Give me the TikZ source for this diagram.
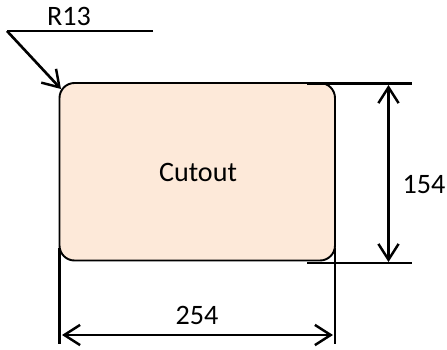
\documentclass[tikz,border=0pt]{standalone}
\usepackage{fontspec}
\setmainfont{Carlito}
\usetikzlibrary{arrows.meta}
\definecolor{cutoutfill}{RGB}{253,233,217}
\tikzset{
    barb/.tip={Straight Barb[length=9pt,width=11.5pt,line width=1.4pt]},
    dimline/.style={line width=1.3pt,barb-barb},
    extline/.style={line width=1.5pt},
    dimtext/.style={inner sep=0pt,font=\fontsize{16}{18}\selectfont}
}
\begin{document}
\begin{tikzpicture}[x=0.02cm,y=-0.02cm]
    \useasboundingbox (0,0)rectangle(447,349);
    \draw[fill=cutoutfill,line width=1.1pt,rounded corners=0.3cm] (59.5,83)rectangle(335,260.5);
    \node[dimtext] (cutout) at (198,172) {Cutout};
    \node[dimtext] (radius) at (69,16) {R13};
    \node[dimtext] (width) at (197,315) {254};
    \node[dimtext] (height) at (424,185) {154};
    \coordinate (la) at (7,31);
    \coordinate (lb) at (153,31);
    \coordinate (lc) at (61,89);
    \draw[extline] (lb)--(la);
    \draw[extline,-barb] (la)--(lc);
    \draw[extline] (307,83.5)--(412,83.5);
    \draw[line width=1.2pt] (307,263)--(412,263);
    \draw[extline] (59.5,248)--(59.5,344);
    \draw[extline] (335,248)--(335,344);
    \coordinate (ha) at (388.5,85);
    \coordinate (hb) at (388.5,262);
    \coordinate (wa) at (62,335);
    \coordinate (wb) at (333,335);
    \draw[dimline] (ha)--(hb);
    \draw[dimline] (wa)--(wb);
\end{tikzpicture}
\end{document}
